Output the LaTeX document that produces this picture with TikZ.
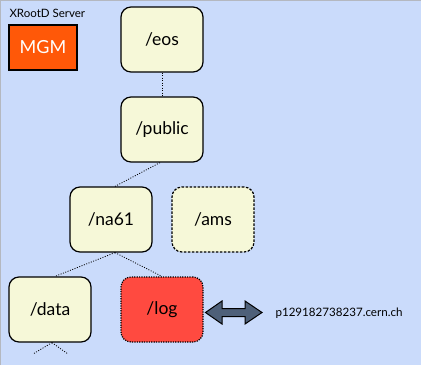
\documentclass[tikz,border=0pt]{standalone}
\usepackage{fontspec}
\setmainfont{Lato}
\definecolor{panel}{HTML}{CADBFB}
\definecolor{frameline}{HTML}{B4B8C0}
\definecolor{dirfill}{HTML}{F6F8D8}
\definecolor{mgmfill}{HTML}{FF5808}
\definecolor{logfill}{HTML}{FF4A40}
\definecolor{linkfill}{HTML}{4E6079}
\tikzset{
  dirbox/.style={draw=black, line width=1.2pt, rounded corners=10pt, fill=dirfill,
    minimum width=82pt, minimum height=65pt, inner sep=0pt, font=\fontsize{17.5}{20}\selectfont},
  ghost/.style={dirbox, dash pattern=on 2.5pt off 1.5pt},
  logbox/.style={dirbox, fill=logfill, dash pattern=on 1.2pt off 1.2pt},
  tree/.style={dash pattern=on 1pt off 1.5pt, line width=0.8pt, black},
}
\begin{document}
\begin{tikzpicture}[x=1pt, y=-1pt]
  \useasboundingbox (0,0) rectangle (421,365);
  \fill[panel] (0,0) rectangle (421,365);
  \draw[frameline, line width=1pt] (0.5,365) -- (0.5,0.5) -- (421,0.5);

  \node[anchor=west, font=\fontsize{11.5}{13}\selectfont] (title) at (6,13) {XRootD Server};
  \node[draw=black, line width=1.2pt, fill=mgmfill, minimum width=68pt, minimum height=45pt,
        inner sep=0pt, text=white, font=\fontsize{18}{20}\selectfont] (mgm) at (43,47.5) {MGM};

  \node[dirbox] (eos) at (162,39.5) {/eos};
  \node[dirbox] (public) at (162,129.5) {/public};
  \node[dirbox] (na61) at (111,219.5) {/na61};
  \node[ghost] (ams) at (213,219.5) {/ams};
  \node[dirbox] (data) at (50,309.5) {/data};
  \node[logbox] (log) at (162,309.5) {/log};

  \node[anchor=west, font=\fontsize{11.6}{13}\selectfont] (host) at (272,313) {p129182738237.cern.ch};

  \coordinate (subL) at (33,354);
  \coordinate (subR) at (68,354);

  \draw[tree] (eos.south) -- (public.north);
  \draw[tree] ([xshift=-2pt]public.south) -- ([xshift=4pt]na61.north);
  \draw[tree] ([xshift=4pt]na61.south) -- ([xshift=5pt]data.north);
  \draw[tree] ([xshift=4pt]na61.south) -- (log.north);
  \draw[tree] ([xshift=2pt]data.south) -- (subL);
  \draw[tree] ([xshift=2pt]data.south) -- (subR);

  % double-headed link between /log and the host
  \draw[fill=linkfill, line width=1pt, line join=miter]
    (205.5,312.5) -- (222,301) -- (222,308.5) -- (245,308.5) -- (245,301)
    -- (262,312.5) -- (245,324) -- (245,316.5) -- (222,316.5) -- (222,324) -- cycle;
\end{tikzpicture}
\end{document}
